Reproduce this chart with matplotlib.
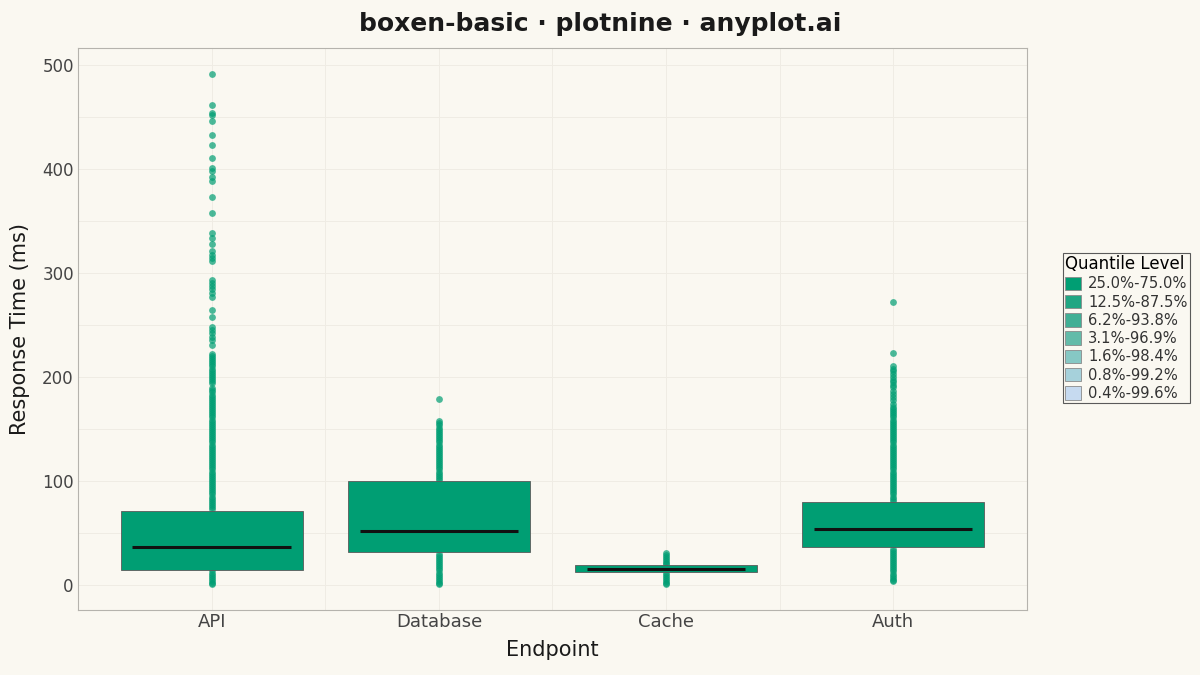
import matplotlib
matplotlib.use("Agg")
import matplotlib.pyplot as plt
from matplotlib.patches import Patch

# values (ms)
endpoints = ["API", "Database", "Cache", "Auth"]
q25 = [14.5, 31.5, 12.3, 36.5]
q50 = [36.5, 52.0, 15.4, 54.0]
q75 = [71.5, 100.0, 19.0, 80.0]

api_out = [491, 461, 454, 452, 446, 432, 423, 410, 401, 398, 392, 388, 373, 357,
           338, 333, 328, 321, 317, 314, 311, 293, 290, 287, 284, 281, 277, 264,
           258, 248, 245, 242, 238, 235, 231, 222, 220, 218, 216, 214, 212, 210,
           208, 206, 204, 202, 200, 198, 196, 194, 189, 187, 185, 183, 181, 179,
           177, 175, 173, 171, 169, 167, 165, 163, 161, 159, 157, 155, 153, 151,
           149, 147, 145, 143, 141, 139, 137, 135, 133, 131, 129, 127, 125, 123,
           121, 119, 117, 115, 113, 111, 109, 107, 105, 103, 101, 99, 97, 95, 93,
           91, 89, 87, 85, 83, 81, 79, 77, 75, 73,
           14, 12, 10, 8, 6, 4, 2, 1]
db_out = [179, 158, 156, 154, 151, 149, 147, 145, 143, 141, 139, 137, 135, 133,
          131, 129, 127, 125, 123, 121, 119, 117, 115, 113, 111, 109, 107, 105,
          103, 101,
          30, 28, 26, 24, 22, 20, 18, 16, 14, 12, 10, 8, 6, 4, 2, 0.5]
cache_out = [31, 29, 27, 25, 23, 21, 20, 12, 10, 8, 6, 4, 2, 0.5]
auth_out = [272, 223, 210, 208, 206, 203, 200, 197, 195, 192, 190, 186, 184, 181,
            178, 174, 171, 169, 167, 165, 163, 161, 159, 157, 155, 153, 151, 149,
            147, 145, 143, 141, 139, 137, 135, 133, 131, 129, 127, 125, 123, 121,
            119, 117, 115, 113, 111, 109, 107, 105, 103, 101, 99, 97, 95, 93, 91,
            89, 87, 85, 83, 81,
            35, 33, 31, 29, 27, 25, 23, 21, 19, 17, 15, 13, 11, 9, 7, 5, 4]
outliers = [api_out, db_out, cache_out, auth_out]

levels = ["25.0%-75.0%", "12.5%-87.5%", "6.2%-93.8%", "3.1%-96.9%",
          "1.6%-98.4%", "0.8%-99.2%", "0.4%-99.6%"]
level_colors = ["#009E73", "#20A683", "#41AF95", "#63BBA9", "#86C8C4",
                "#A6D1DB", "#C6DAF0"]

BG = "#FAF8F1"
GREEN = "#009E73"

plt.rcParams["font.family"] = ["DejaVu Sans"]
fig = plt.figure(figsize=(12, 6.75), dpi=100, facecolor=BG)
ax = fig.add_axes([0.065, 0.0963, 0.7908, 0.8326], facecolor=BG)

xs = list(range(1, len(endpoints) + 1))
for x, lo, med, hi, pts in zip(xs, q25, q50, q75, outliers):
    ax.scatter([x] * len(pts), pts, s=24, color=GREEN, alpha=0.7,
               linewidths=0, zorder=2)
    ax.bar(x, hi - lo, bottom=lo, width=0.8, color=GREEN,
           edgecolor="#5a5a5a", linewidth=0.6, zorder=3)
    ax.plot([x - 0.35, x + 0.35], [med, med], color="#111111", lw=2.2,
            solid_capstyle="butt", zorder=4)

ax.set_xlim(0.41, 4.59)
ax.set_ylim(-24, 516)
ax.set_xticks(xs)
ax.set_xticklabels(endpoints)
ax.set_yticks([0, 100, 200, 300, 400, 500])
ax.set_yticks([50, 150, 250, 350, 450], minor=True)
ax.set_xticks([1.5, 2.5, 3.5], minor=True)
ax.grid(which="both", color="#EFECE4", lw=0.7, zorder=0)
ax.set_axisbelow(True)
ax.tick_params(which="both", length=0, labelcolor="#444444")
ax.tick_params(axis="x", labelsize=13, pad=2)
ax.tick_params(axis="y", labelsize=12, pad=3)
for s in ax.spines.values():
    s.set_color("#B5B3AD")
    s.set_linewidth(0.8)

ax.set_xlabel("Endpoint", fontsize=15, color="#1a1a1a", labelpad=7)
ax.set_ylabel("Response Time (ms)", fontsize=15, color="#1a1a1a", labelpad=9)
fig.suptitle("boxen-basic · plotnine · anyplot.ai", fontsize=18, fontweight="bold",
             color="#1a1a1a", y=0.982)

handles = [Patch(facecolor=c, edgecolor="#8a8a8a", linewidth=0.6) for c in level_colors]
leg = fig.legend(handles, levels, title="Quantile Level", loc="center left",
                 bbox_to_anchor=(0.886, 0.514), fontsize=10.6, title_fontsize=12,
                 frameon=True, fancybox=False, edgecolor="#5a5a5a",
                 facecolor=BG, framealpha=1, handlelength=1.05, handleheight=1.05,
                 handletextpad=0.5, labelspacing=0.22, borderpad=0.15,
                 borderaxespad=0)
leg._legend_box.align = "left"
leg.get_frame().set_linewidth(0.8)
for t in leg.get_texts():
    t.set_color("#333333")

fig.savefig("out.png", dpi=100, facecolor=BG)
